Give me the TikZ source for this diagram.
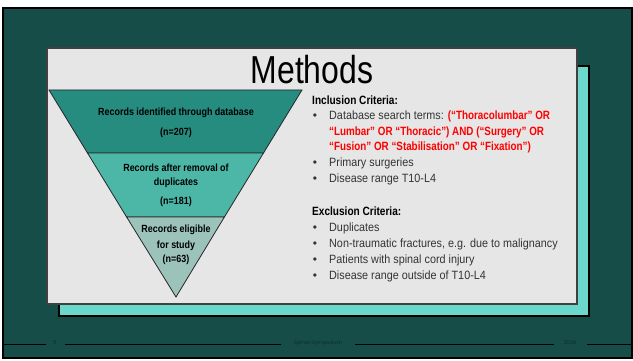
\documentclass[tikz,border=0pt]{standalone}
\usepackage{fontspec}
\setmainfont{Liberation Sans}
\newfontfamily\condfont[FakeStretch=0.84]{Liberation Sans}
\newfontfamily\redfont[FakeStretch=0.82]{Liberation Sans}
\newfontfamily\bodyfont[FakeStretch=0.9]{Liberation Sans}
\newfontfamily\funnelfont[FakeStretch=0.86]{Liberation Sans}
\newfontfamily\titlefont[FakeStretch=0.82]{Liberation Sans}
\newfontfamily\footfont{Poppins}
\definecolor{slidebg}{HTML}{174D48}
\definecolor{panelgrey}{HTML}{E6E6E6}
\definecolor{shadowteal}{HTML}{6CD8CB}
\definecolor{tierone}{HTML}{268C80}
\definecolor{tiertwo}{HTML}{4DB7A7}
\definecolor{tierthree}{HTML}{9CC3BA}
\definecolor{bodygrey}{HTML}{333333}
\definecolor{footink}{HTML}{0C2E2A}
\tikzset{
  tier/.style={draw=black!85, line width=0.8pt},
  funneltext/.style={font=\funnelfont\fontsize{10.4}{12}\selectfont\bfseries, anchor=mid, inner sep=0pt},
  heading/.style={font=\condfont\fontsize{12}{14}\selectfont\bfseries, anchor=mid west, inner sep=0pt},
  item/.style={font=\bodyfont\fontsize{12}{14}\selectfont, text=bodygrey, anchor=mid west, inner sep=0pt},
  bulletmark/.style={font=\fontsize{12}{14}\selectfont, text=bodygrey, anchor=mid, inner sep=0pt},
  foottext/.style={font=\footfont\fontsize{5.2}{6}\selectfont, text=footink, anchor=mid, inner sep=0pt},
  footrule/.style={draw=black, line width=0.8pt}
}
\newcommand{\redterm}[1]{\textcolor{red}{\redfont\bfseries #1}}
\begin{document}
\begin{tikzpicture}[x=1pt, y=-1pt]
\useasboundingbox (0,0) rectangle (633,361);
% slide background
\fill[white] (0,0) rectangle (633,361);
\filldraw[fill=slidebg, draw=black, line width=2pt] (3,8) rectangle (632,358);
% offset panel behind the content card
\filldraw[fill=shadowteal, draw=black, line width=1.2pt] (59,66) rectangle (589,316);
% content card
\filldraw[fill=panelgrey, draw=black!75, line width=1.2pt] (47,48) rectangle (577,304);
% title
\node[font=\titlefont\fontsize{39}{40}\selectfont, anchor=base, inner sep=0pt] (title) at (312,84) {Methods};
% funnel tiers
\filldraw[tier, fill=tierone] (49,90) -- (302,90) -- (263.5,153) -- (87.5,153) -- cycle;
\filldraw[tier, fill=tiertwo] (87.5,153) -- (263.5,153) -- (224.4,217) -- (126.6,217) -- cycle;
\filldraw[tier, fill=tierthree] (126.6,217) -- (224.4,217) -- (176,297) -- cycle;
% funnel labels
\node[funneltext] (t1a) at (176,113) {Records identified through database};
\node[funneltext] (t1b) at (176,133) {(n=207)};
\node[funneltext] (t2a) at (176,169) {Records after removal of};
\node[funneltext] (t2b) at (176,183) {duplicates};
\node[funneltext] (t2c) at (176,202) {(n=181)};
\node[funneltext] (t3a) at (176,230) {Records eligible};
\node[funneltext] (t3b) at (176,246) {for study};
\node[funneltext] (t3c) at (176,260) {(n=63)};
% inclusion criteria
\node[heading] (inc) at (312,102) {Inclusion Criteria:};
\node[bulletmark] (ib1) at (315,117) {•};
\node[item] (i1a) at (329,117) {Database search terms: \redterm{(“Thoracolumbar” OR}};
\node[item] (i1b) at (329,133) {\redterm{“Lumbar” OR “Thoracic”) AND (“Surgery” OR}};
\node[item] (i1c) at (329,148) {\redterm{“Fusion” OR “Stabilisation” OR “Fixation”)}};
\node[bulletmark] (ib2) at (315,164) {•};
\node[item] (i2) at (329,164) {Primary surgeries};
\node[bulletmark] (ib3) at (315,180) {•};
\node[item] (i3) at (329,180) {Disease range T10-L4};
% exclusion criteria
\node[heading] (exc) at (312,213) {Exclusion Criteria:};
\node[bulletmark] (eb1) at (315,229) {•};
\node[item] (e1) at (329,229) {Duplicates};
\node[bulletmark] (eb2) at (315,245) {•};
\node[item] (e2) at (329,245) {Non-traumatic fractures, e.g. due to malignancy};
\node[bulletmark] (eb3) at (315,261) {•};
\node[item] (e3) at (329,261) {Patients with spinal cord injury};
\node[bulletmark] (eb4) at (315,277) {•};
\node[item] (e4) at (329,277) {Disease range outside of T10-L4};
% footer
\node[foottext] (pg) at (55,342) {5};
\node[foottext] (conf) at (318,342) {Spinal Symposium};
\node[foottext] (yr) at (570,342) {2024};
\coordinate (fl) at (4,344);
\coordinate (fr) at (632,344);
\draw[footrule] (fl) -- (fl -| 46,0);
\draw[footrule] (65,344) -- (281,344);
\draw[footrule] (355,344) -- (554,344);
\draw[footrule] (587,344) -- (fr);
\end{tikzpicture}
\end{document}
